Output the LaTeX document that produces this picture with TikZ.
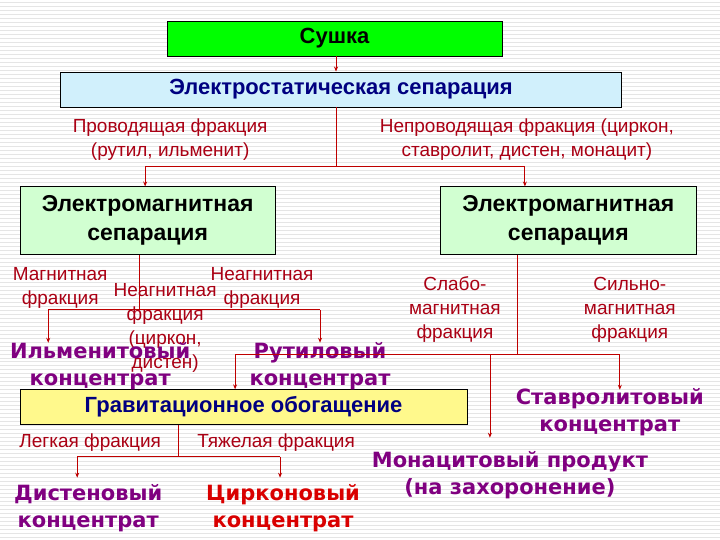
\documentclass[tikz,border=0pt]{standalone}
\usepackage{fontspec}
\usetikzlibrary{arrows.meta}
\setmainfont{Liberation Sans}
\newfontfamily\vfont{DejaVu Sans}
\definecolor{pur}{RGB}{128,0,128}
\definecolor{dred}{RGB}{170,0,20}
\begin{document}
\begin{tikzpicture}[x=1pt,y=-1pt,
  box/.style={draw=black,line width=0.8pt,minimum height=35pt,font=\fontsize{22}{24}\selectfont\bfseries},
  lbl/.style={text=dred,font=\fontsize{19}{24}\selectfont,align=center,inner sep=0},
  prod/.style={text=pur,font=\vfont\fontsize{21}{27}\selectfont\bfseries,align=center,inner sep=0},
  ln/.style={draw=red!75!black,line width=0.8pt},
  ar/.style={ln,-{Stealth[length=5pt,width=4pt]}}]
\fill[white] (0,0) rectangle (720,540);
\foreach \y in {2,6,...,538} \draw[black!10,line width=0.5pt] (0,\y) -- (720,\y);
\useasboundingbox (0,0) rectangle (720,540);
\node[box,fill=green,minimum width=335pt] (su) at (334.5,38.5) {Сушка};
\node[box,fill=cyan!18,minimum width=562pt,text=blue!50!black] (es) at (341,89.5) {Электростатическая сепарация};
\node[box,fill=green!18,minimum width=255pt,minimum height=68pt,align=center,font=\fontsize{23}{29}\selectfont\bfseries] (eml) at (147.5,221) {Электромагнитная\\сепарация};
\node[box,fill=green!18,minimum width=257pt,minimum height=68pt,align=center,font=\fontsize{23}{29}\selectfont\bfseries] (emr) at (568.5,221) {Электромагнитная\\сепарация};
\node[box,fill=yellow!45,minimum width=447pt,text=blue!50!black] (gr) at (243.5,407.5) {Гравитационное обогащение};
\draw[ar] (su.south -| 336,0) -- (es.north -| 336,0);
\coordinate (j1) at (336,167);
\draw[ln] (es.south -| 336,0) -- (j1);
\draw[ln] (145,167) -- (525,167);
\draw[ar] (145,167) -- (eml.north -| 145,0);
\draw[ar] (525,167) -- (emr.north -| 525,0);
\node[lbl] at (170,140) {Проводящая фракция\\(рутил, ильменит)};
\node[lbl] at (527,140) {Непроводящая фракция (циркон,\\ставролит, дистен, монацит)};
% left tree
\draw[ln] (eml.south -| 139,0) -- (139,310);
\draw[ln] (48,310) -- (320,310);
\draw[ar] (48,310) -- (48,343);
\draw[ar] (320,310) -- (320,343);
\node[lbl] at (60,288) {Магнитная\\фракция};
\node[lbl] at (262,288) {Неагнитная\\фракция};
\node[lbl,font=\fontsize{19}{24}\selectfont] at (165,328) {Неагнитная\\фракция\\(циркон,\\дистен)};
\node[prod] (il) at (100,366) {Ильменитовый\\концентрат};
\node[prod] (ru) at (320,366) {Рутиловый\\концентрат};
% right tree
\draw[ln] (emr.south -| 518,0) -- (518,355);
\draw[ln] (235,355) -- (620,355);
\draw[ar] (235,355) -- (gr.north -| 235,0);
\draw[ar] (620,355) -- (620,390);
\draw[ar] (490,355) -- (490,438);
\node[lbl] at (455,310) {Слабо-\\магнитная\\фракция};
\node[lbl] at (630,310) {Сильно-\\магнитная\\фракция};
\node[prod] (st) at (610,412) {Ставролитовый\\концентрат};
\node[prod] (mo) at (510,475) {Монацитовый продукт\\(на захоронение)};
% gravity
\draw[ln] (gr.south -| 178,0) -- (178,457);
\draw[ln] (77,457) -- (280,457);
\draw[ar] (77,457) -- (77,478);
\draw[ar] (280,457) -- (280,478);
\node[lbl] at (90,443) {Легкая фракция};
\node[lbl] at (276,443) {Тяжелая фракция};
\node[prod] (di) at (88,509) {Дистеновый\\концентрат};
\node[prod,text=red!85!black] (zi) at (283,509) {Цирконовый\\концентрат};
\end{tikzpicture}
\end{document}
